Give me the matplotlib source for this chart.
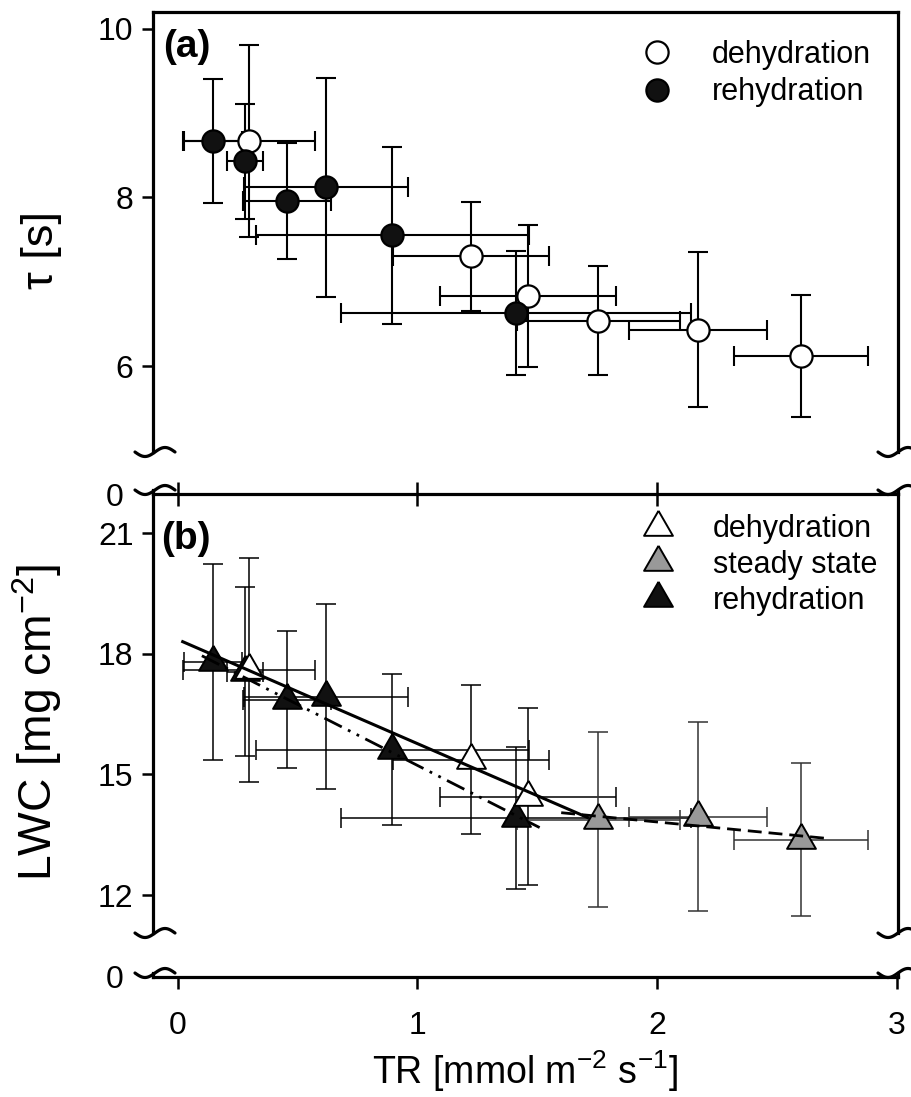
import numpy as np
import matplotlib
matplotlib.use("Agg")
import matplotlib.pyplot as plt
from matplotlib.lines import Line2D
from matplotlib import font_manager

# shared transpiration rates (TR) and their SD
tr_dehyd = [0.296, 1.223, 1.461, 1.754, 2.171, 2.601]
tr_dehyd_err = [0.275, 0.325, 0.367, 0.34, 0.29, 0.28]
tr_rehyd = [0.146, 0.28, 0.455, 0.618, 0.894, 1.411]
tr_rehyd_err = [0.12, 0.075, 0.184, 0.344, 0.57, 0.73]

# panel (a): tau
tau_dehyd = [8.67, 7.30, 6.83, 6.54, 6.43, 6.12]
tau_dehyd_err = [1.14, 0.65, 0.84, 0.645, 0.92, 0.72]
tau_rehyd = [8.67, 8.43, 7.96, 8.12, 7.55, 6.63]
tau_rehyd_err = [0.74, 0.68, 0.69, 1.30, 1.05, 0.74]

# panel (b): LWC (dehydration = first 3 TR, steady state = last 3 TR)
lwc_dehyd = [17.6, 15.37, 14.45]
lwc_dehyd_err = [2.78, 1.85, 2.2]
lwc_steady = [13.88, 13.95, 13.38]
lwc_steady_err = [2.17, 2.35, 1.9]
lwc_rehyd = [17.8, 17.55, 16.86, 16.93, 15.62, 13.92]
lwc_rehyd_err = [2.44, 2.1, 1.70, 2.3, 1.87, 1.77]

# regression lines in panel (b)
fit_dehyd_tr = [0.02, 1.71]
fit_dehyd_lwc = [18.3, 13.93]
fit_rehyd_tr = [0.10, 1.51]
fit_rehyd_lwc = [17.95, 13.68]
fit_steady_tr = [1.60, 2.71]
fit_steady_lwc = [14.05, 13.41]

names = {f.name for f in font_manager.fontManager.ttflist}
if "Liberation Sans Narrow" in names:
    label_font, label_scale = "Liberation Sans Narrow", 1.0
else:
    label_font, label_scale = "Liberation Sans", 0.9

plt.rcParams["font.family"] = "Liberation Sans"
plt.rcParams["mathtext.default"] = "regular"
plt.rcParams["lines.scale_dashes"] = False

W, H = 912, 1097
fig = plt.figure(figsize=(W / 100, H / 100), dpi=100)

SPINE_LW = 2.3
TICK_LW = 1.8
TICK_FS = 23
XLIM = (-0.104, 3.006)
TRI = [(0, 1), (-0.866, -0.5), (0.866, -0.5), (0, 1)]


def px_axes(left, top, right, bottom):
    ax = fig.add_axes([left / W, 1 - bottom / H, (right - left) / W, (bottom - top) / H])
    ax.set_facecolor("none")
    ax.set_xlim(*XLIM)
    for s in ax.spines.values():
        s.set_linewidth(SPINE_LW)
    return ax


def squiggle(xc, yc, half=20, amp=4.5):
    t = np.linspace(-1, 1, 60)
    xs = xc + half * t
    ys = yc - amp * np.sin(np.pi * t)
    fig.add_artist(Line2D(xs / W, 1 - ys / H, transform=fig.transFigure,
                          color="black", lw=SPINE_LW, solid_capstyle="round"))


ax_a = px_axes(153, 12, 898, 452)
ax_a0 = px_axes(153, 490, 898, 494)
ax_b = px_axes(153, 494, 898, 933)
ax_b0 = px_axes(153, 973, 898, 977)

# main panels
ax_a.spines["bottom"].set_visible(False)
ax_a.set_ylim(4.98, 10.2)
ax_a.set_yticks([6, 8, 10])
ax_b.spines["bottom"].set_visible(False)
ax_b.spines["top"].set_visible(False)
ax_b.set_ylim(11.06, 21.97)
ax_b.set_yticks([12, 15, 18, 21])
for ax in (ax_a, ax_b):
    ax.set_xticks([])
    ax.tick_params(axis="y", direction="out", length=8, width=TICK_LW, pad=6, labelsize=TICK_FS)

# zero strips below the breaks
for ax in (ax_a0, ax_b0):
    ax.spines["top"].set_visible(False)
    ax.set_ylim(0, 1)
    ax.set_yticks([0])
    ax.tick_params(axis="y", length=0, pad=21, labelsize=TICK_FS)
ax_a0.set_xticks([0, 1, 2])
ax_a0.tick_params(axis="x", direction="inout", length=17, width=TICK_LW, labelbottom=False)
ax_b0.set_xticks([0, 1, 2, 3])
ax_b0.tick_params(axis="x", direction="out", length=8.6, width=TICK_LW, pad=16, labelsize=TICK_FS)

for yc in (452, 490, 933, 973):
    squiggle(155, yc)
    squiggle(898, yc)

# panel (a)
eb = dict(fmt="none", ecolor="black", elinewidth=1.5, capsize=7, capthick=1.5, zorder=2)
ax_a.errorbar(tr_dehyd, tau_dehyd, xerr=tr_dehyd_err, yerr=tau_dehyd_err, **eb)
ax_a.errorbar(tr_rehyd, tau_rehyd, xerr=tr_rehyd_err, yerr=tau_rehyd_err, **eb)
ax_a.plot(tr_dehyd, tau_dehyd, ls="none", marker="o", ms=16, mfc="white", mec="black", mew=1.6, zorder=3)
ax_a.plot(tr_rehyd, tau_rehyd, ls="none", marker="o", ms=16, mfc="#111111", mec="black", mew=1.6, zorder=4)

# panel (b)
eb_b = dict(fmt="none", ecolor="black", elinewidth=1.1, capsize=7, capthick=1.1, zorder=2)
ax_b.errorbar(tr_rehyd, lwc_rehyd, xerr=tr_rehyd_err, yerr=lwc_rehyd_err, **eb_b)
ax_b.errorbar(tr_dehyd[:3], lwc_dehyd, xerr=tr_dehyd_err[:3], yerr=lwc_dehyd_err, **eb_b)
ax_b.errorbar(tr_dehyd[3:], lwc_steady, xerr=tr_dehyd_err[3:], yerr=lwc_steady_err,
              **{**eb_b, "ecolor": "#333333"})
tri_kw = dict(ls="none", marker=TRI, ms=24, mec="black", mew=1.4)
ax_b.plot(tr_rehyd, lwc_rehyd, mfc="#111111", zorder=3, **tri_kw)
ax_b.plot(tr_dehyd[:3], lwc_dehyd, mfc="white", zorder=4, **tri_kw)
ax_b.plot(tr_dehyd[3:], lwc_steady, mfc="#999999", zorder=4, **tri_kw)

ax_b.plot(fit_dehyd_tr, fit_dehyd_lwc, color="black", lw=2.2, zorder=5)
ax_b.plot(fit_rehyd_tr, fit_rehyd_lwc, color="black", lw=2.0, zorder=5,
          ls=(0, (14, 5, 2, 5, 2, 5)))
ax_b.plot(fit_steady_tr, fit_steady_lwc, color="black", lw=2.0, zorder=5,
          ls=(0, (10, 5)))

# legends
leg_kw = dict(loc="upper left", bbox_transform=fig.transFigure, frameon=False, fontsize=22,
              borderpad=0, borderaxespad=0, handlelength=1.2, handletextpad=1.2, numpoints=1)
h_a = [Line2D([], [], ls="none", marker="o", ms=16, mfc="white", mec="black", mew=1.6),
       Line2D([], [], ls="none", marker="o", ms=16, mfc="#111111", mec="black", mew=1.6)]
ax_a.legend(h_a, ["dehydration", "rehydration"], labelspacing=0.26,
            bbox_to_anchor=(638.6 / W, 1 - 39.5 / H), **leg_kw)
h_b = [Line2D([], [], ls="none", marker=TRI, ms=24, mfc=c, mec="black", mew=1.4)
       for c in ("white", "#999999", "#111111")]
ax_b.legend(h_b, ["dehydration", "steady state", "rehydration"], labelspacing=0.18,
            bbox_to_anchor=(639.6 / W, 1 - 514.5 / H), **leg_kw)

# panel labels and axis titles
fig.text(163 / W, 1 - 47 / H, "(a)", fontsize=28, fontweight="bold", ha="left", va="center")
fig.text(161 / W, 1 - 539 / H, "(b)", fontsize=28, fontweight="bold", ha="left", va="center")
fig.text(42 / W, 1 - 250 / H, "τ [s]", rotation=90, ha="center", va="center",
         fontsize=36 * label_scale, family=label_font)
fig.text(37 / W, 1 - 722 / H, "LWC [mg cm$^{-2}$]", rotation=90, ha="center", va="center",
         fontsize=37 * label_scale, family=label_font)
fig.text(525 / W, 1 - 1084 / H, "TR [mmol m$^{-2}$ s$^{-1}$]", ha="center", va="baseline",
         fontsize=30 * label_scale, family=label_font)

fig.savefig("out.png", dpi=100)
